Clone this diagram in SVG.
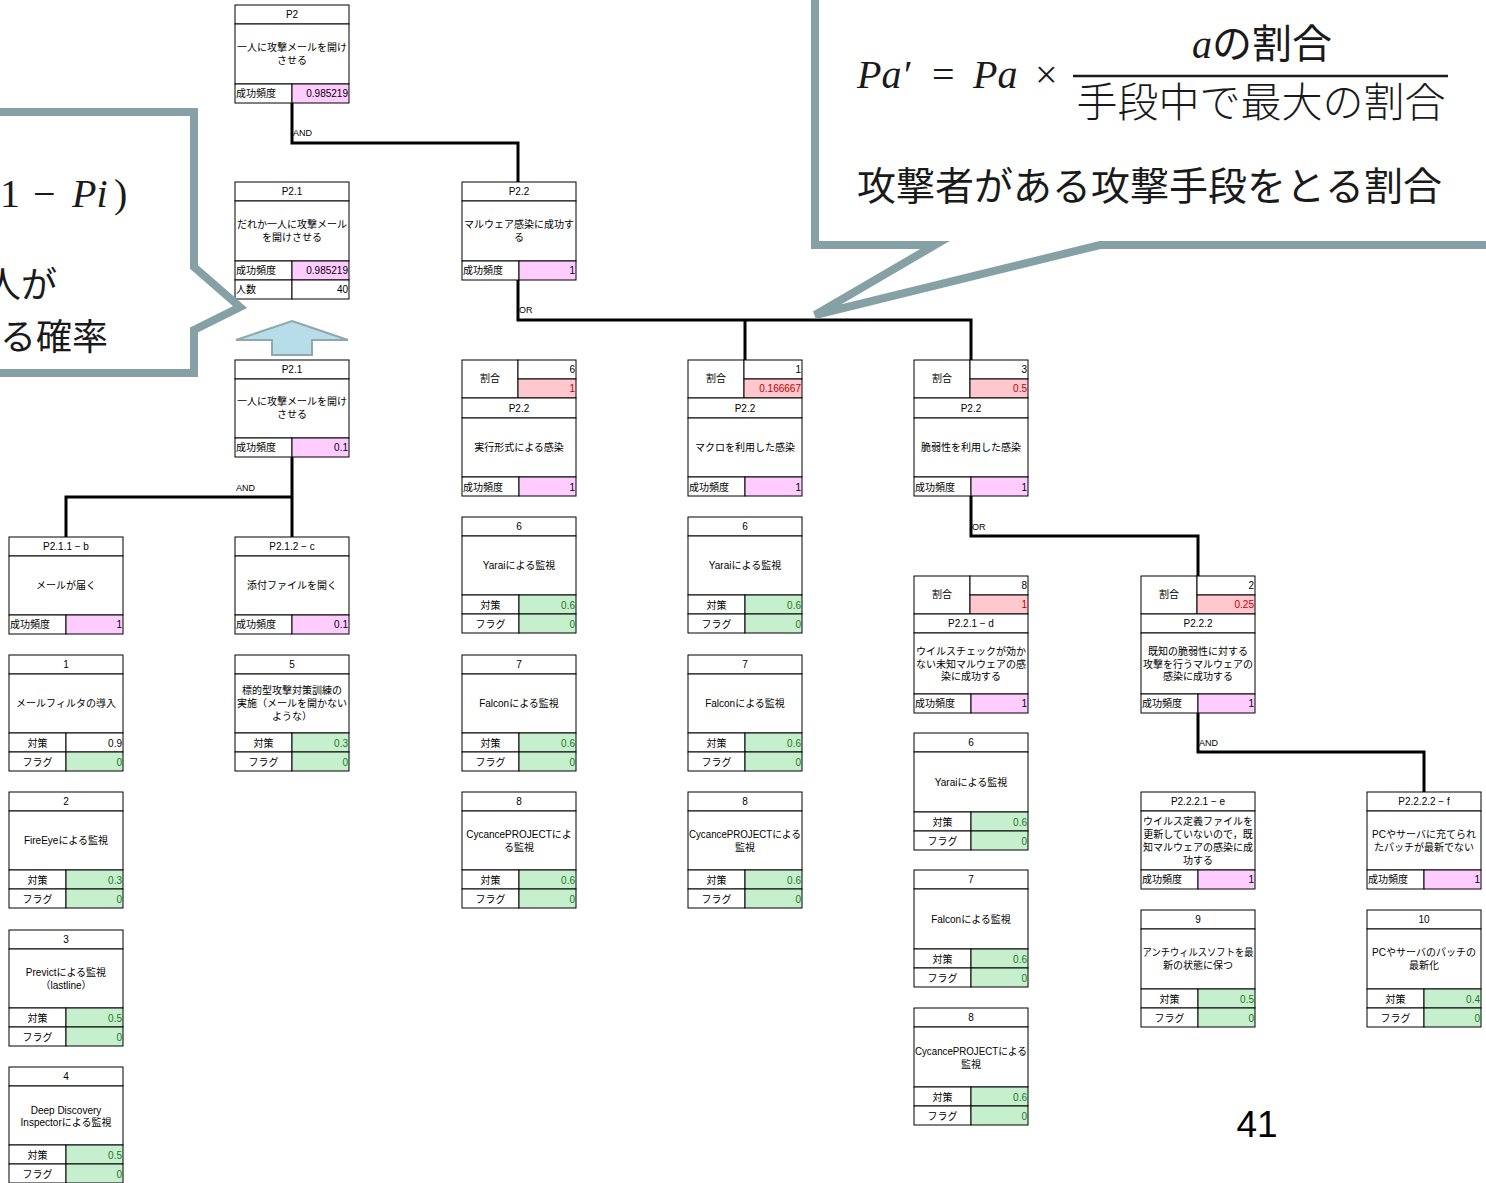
<svg xmlns="http://www.w3.org/2000/svg" width="1486" height="1183" viewBox="0 0 1486 1183">
<style>
.c{fill:#fff;stroke:#000;stroke-width:1}
.pk{fill:#ffccff;stroke:#000;stroke-width:1}
.gr{fill:#c6efce;stroke:#000;stroke-width:1}
.rd{fill:#ffc7ce;stroke:#000;stroke-width:1}
.t{font-family:"Liberation Sans","Noto Sans CJK JP",sans-serif;font-size:10px;fill:#000}
.m{text-anchor:middle}
.e{text-anchor:end}
.gt{fill:#1d7a1d}
.rt{fill:#c00000}
.cn{fill:none;stroke:#000;stroke-width:3}
.lb{font-family:"Liberation Sans",sans-serif;font-size:9px;fill:#000}
.co{fill:#fff;stroke:#86a1a5;stroke-width:8}
.jp{font-family:"Noto Sans CJK JP",sans-serif;fill:#1a1a1a}
.mt{font-family:"Liberation Serif",serif;fill:#1a1a1a}
</style>
<rect width="1486" height="1183" fill="#fff"/>

<g id="connectors">
<path class="cn" d="M292 102V143H518V182"/>
<path class="cn" d="M518 280V320H971V360M745 320V360"/>
<path class="cn" d="M292 457V497H66V537M292 497V537"/>
<path class="cn" d="M971 496V536H1198V576"/>
<path class="cn" d="M1198 712V752H1424V792"/>
<text class="lb" x="293" y="136">AND</text>
<text class="lb" x="519" y="313">OR</text>
<text class="lb" x="236" y="491">AND</text>
<text class="lb" x="972" y="530">OR</text>
<text class="lb" x="1199" y="746">AND</text>
</g>

<g id="n-p2" transform="translate(235,5)">
<rect class="c" width="114" height="19"/><rect class="c" y="19" width="114" height="60"/>
<rect class="c" y="79" width="57" height="19"/><rect class="pk" x="57" y="79" width="57" height="19"/>
<text class="t m" x="57" y="13">P2</text>
<text class="t m" x="57" y="46">一人に攻撃メールを開け</text>
<text class="t m" x="57" y="59">させる</text>
<text class="t" x="1" y="92">成功頻度</text><text class="t e" x="113" y="92">0.985219</text>
</g>

<g id="n-p21a" transform="translate(235,182)">
<rect class="c" width="114" height="19"/><rect class="c" y="19" width="114" height="60"/>
<rect class="c" y="79" width="57" height="19"/><rect class="pk" x="57" y="79" width="57" height="19"/>
<rect class="c" y="98" width="57" height="19"/><rect class="c" x="57" y="98" width="57" height="19"/>
<text class="t m" x="57" y="13">P2.1</text>
<text class="t m" x="57" y="46">だれか一人に攻撃メール</text>
<text class="t m" x="57" y="59">を開けさせる</text>
<text class="t" x="1" y="92">成功頻度</text><text class="t e" x="113" y="92">0.985219</text>
<text class="t" x="1" y="111">人数</text><text class="t e" x="113" y="111">40</text>
</g>

<g id="n-p22" transform="translate(462,182)">
<rect class="c" width="114" height="19"/><rect class="c" y="19" width="114" height="60"/>
<rect class="c" y="79" width="57" height="19"/><rect class="pk" x="57" y="79" width="57" height="19"/>
<text class="t m" x="57" y="13">P2.2</text>
<text class="t m" x="57" y="46">マルウェア感染に成功す</text>
<text class="t m" x="57" y="59">る</text>
<text class="t" x="1" y="92">成功頻度</text><text class="t e" x="113" y="92">1</text>
</g>

<g id="arrow-up">
<path d="M292 321L348 340H312V355H272V340H236Z" fill="#b7dde8" stroke="#8fa8ad" stroke-width="2"/>
</g>

<g id="n-p21b" transform="translate(235,360)">
<rect class="c" width="114" height="19"/><rect class="c" y="19" width="114" height="59"/>
<rect class="c" y="78" width="57" height="19"/><rect class="pk" x="57" y="78" width="57" height="19"/>
<text class="t m" x="57" y="13">P2.1</text>
<text class="t m" x="57" y="45">一人に攻撃メールを開け</text>
<text class="t m" x="57" y="58">させる</text>
<text class="t" x="1" y="91">成功頻度</text><text class="t e" x="113" y="91">0.1</text>
</g>

<g id="n-rc" transform="translate(462,360)">
<rect class="c" width="56" height="38"/><rect class="c" x="56" width="58" height="19"/><rect class="rd" x="56" y="19" width="58" height="19"/>
<rect class="c" y="38" width="114" height="20"/><rect class="c" y="58" width="114" height="59"/>
<rect class="c" y="117" width="57" height="19"/><rect class="pk" x="57" y="117" width="57" height="19"/>
<text class="t m" x="28" y="22">割合</text><text class="t e" x="113" y="13">6</text><text class="t e rt" x="113" y="32">1</text>
<text class="t m" x="57" y="52">P2.2</text>
<text class="t m" x="57" y="91">実行形式による感染</text>
<text class="t" x="1" y="130.5">成功頻度</text><text class="t e" x="113" y="130.5">1</text>
</g>

<g id="n-rd" transform="translate(688,360)">
<rect class="c" width="56" height="38"/><rect class="c" x="56" width="58" height="19"/><rect class="rd" x="56" y="19" width="58" height="19"/>
<rect class="c" y="38" width="114" height="20"/><rect class="c" y="58" width="114" height="59"/>
<rect class="c" y="117" width="57" height="19"/><rect class="pk" x="57" y="117" width="57" height="19"/>
<text class="t m" x="28" y="22">割合</text><text class="t e" x="113" y="13">1</text><text class="t e rt" x="113" y="32">0.166667</text>
<text class="t m" x="57" y="52">P2.2</text>
<text class="t m" x="57" y="91">マクロを利用した感染</text>
<text class="t" x="1" y="130.5">成功頻度</text><text class="t e" x="113" y="130.5">1</text>
</g>

<g id="n-re" transform="translate(914,360)">
<rect class="c" width="56" height="38"/><rect class="c" x="56" width="58" height="19"/><rect class="rd" x="56" y="19" width="58" height="19"/>
<rect class="c" y="38" width="114" height="20"/><rect class="c" y="58" width="114" height="59"/>
<rect class="c" y="117" width="57" height="19"/><rect class="pk" x="57" y="117" width="57" height="19"/>
<text class="t m" x="28" y="22">割合</text><text class="t e" x="113" y="13">3</text><text class="t e rt" x="113" y="32">0.5</text>
<text class="t m" x="57" y="52">P2.2</text>
<text class="t m" x="57" y="91">脆弱性を利用した感染</text>
<text class="t" x="1" y="130.5">成功頻度</text><text class="t e" x="113" y="130.5">1</text>
</g>

<g id="n-b" transform="translate(9,537)">
<rect class="c" width="114" height="19"/><rect class="c" y="19" width="114" height="59"/>
<rect class="c" y="78" width="57" height="19"/><rect class="pk" x="57" y="78" width="57" height="19"/>
<text class="t m" x="57" y="13">P2.1.1 − b</text>
<text class="t m" x="57" y="52">メールが届く</text>
<text class="t" x="1" y="91">成功頻度</text><text class="t e" x="113" y="91">1</text>
</g>

<g id="n-c" transform="translate(235,537)">
<rect class="c" width="114" height="19"/><rect class="c" y="19" width="114" height="59"/>
<rect class="c" y="78" width="57" height="19"/><rect class="pk" x="57" y="78" width="57" height="19"/>
<text class="t m" x="57" y="13">P2.1.2 − c</text>
<text class="t m" x="57" y="52">添付ファイルを開く</text>
<text class="t" x="1" y="91">成功頻度</text><text class="t e" x="113" y="91">0.1</text>
</g>

<g id="cm1" transform="translate(9,655)">
<rect class="c" width="114" height="19"/><rect class="c" y="19" width="114" height="59"/>
<rect class="c" y="78" width="57" height="19"/><rect class="c" x="57" y="78" width="57" height="19"/>
<rect class="c" y="97" width="57" height="19"/><rect class="gr" x="57" y="97" width="57" height="19"/>
<text class="t m" x="57" y="13">1</text>
<text class="t m" x="57" y="52">メールフィルタの導入</text>
<text class="t m" x="28.5" y="91.5">対策</text><text class="t e" x="113" y="91.5">0.9</text>
<text class="t m" x="28.5" y="110.5">フラグ</text><text class="t e gt" x="113" y="110.5">0</text>
</g>

<g id="cm5" transform="translate(235,655)">
<rect class="c" width="114" height="19"/><rect class="c" y="19" width="114" height="59"/>
<rect class="c" y="78" width="57" height="19"/><rect class="gr" x="57" y="78" width="57" height="19"/>
<rect class="c" y="97" width="57" height="19"/><rect class="gr" x="57" y="97" width="57" height="19"/>
<text class="t m" x="57" y="13">5</text>
<text class="t m" x="57" y="39">標的型攻撃対策訓練の</text>
<text class="t m" x="57" y="52">実施（メールを開かない</text>
<text class="t m" x="57" y="65">ような）</text>
<text class="t m" x="28.5" y="91.5">対策</text><text class="t e gt" x="113" y="91.5">0.3</text>
<text class="t m" x="28.5" y="110.5">フラグ</text><text class="t e gt" x="113" y="110.5">0</text>
</g>

<g id="cm2" transform="translate(9,792)">
<rect class="c" width="114" height="19"/><rect class="c" y="19" width="114" height="59"/>
<rect class="c" y="78" width="57" height="19"/><rect class="gr" x="57" y="78" width="57" height="19"/>
<rect class="c" y="97" width="57" height="19"/><rect class="gr" x="57" y="97" width="57" height="19"/>
<text class="t m" x="57" y="13">2</text>
<text class="t m" x="57" y="52">FireEyeによる監視</text>
<text class="t m" x="28.5" y="91.5">対策</text><text class="t e gt" x="113" y="91.5">0.3</text>
<text class="t m" x="28.5" y="110.5">フラグ</text><text class="t e gt" x="113" y="110.5">0</text>
</g>

<g id="cm3" transform="translate(9,930)">
<rect class="c" width="114" height="19"/><rect class="c" y="19" width="114" height="59"/>
<rect class="c" y="78" width="57" height="19"/><rect class="gr" x="57" y="78" width="57" height="19"/>
<rect class="c" y="97" width="57" height="19"/><rect class="gr" x="57" y="97" width="57" height="19"/>
<text class="t m" x="57" y="13">3</text>
<text class="t m" x="57" y="45.5">Previctによる監視</text>
<text class="t m" x="57" y="58.5">（lastline）</text>
<text class="t m" x="28.5" y="91.5">対策</text><text class="t e gt" x="113" y="91.5">0.5</text>
<text class="t m" x="28.5" y="110.5">フラグ</text><text class="t e gt" x="113" y="110.5">0</text>
</g>

<g id="cm4" transform="translate(9,1067)">
<rect class="c" width="114" height="19"/><rect class="c" y="19" width="114" height="59"/>
<rect class="c" y="78" width="57" height="19"/><rect class="gr" x="57" y="78" width="57" height="19"/>
<rect class="c" y="97" width="57" height="19"/><rect class="gr" x="57" y="97" width="57" height="19"/>
<text class="t m" x="57" y="13">4</text>
<text class="t m" x="57" y="46.5">Deep Discovery</text>
<text class="t m" x="57" y="58.5">Inspectorによる監視</text>
<text class="t m" x="28.5" y="91.5">対策</text><text class="t e gt" x="113" y="91.5">0.5</text>
<text class="t m" x="28.5" y="110.5">フラグ</text><text class="t e gt" x="113" y="110.5">0</text>
</g>

<g id="cm6c" transform="translate(462,517)">
<rect class="c" width="114" height="19"/><rect class="c" y="19" width="114" height="59"/>
<rect class="c" y="78" width="57" height="19"/><rect class="gr" x="57" y="78" width="57" height="19"/>
<rect class="c" y="97" width="57" height="19"/><rect class="gr" x="57" y="97" width="57" height="19"/>
<text class="t m" x="57" y="13">6</text>
<text class="t m" x="57" y="52">Yaraiによる監視</text>
<text class="t m" x="28.5" y="91.5">対策</text><text class="t e gt" x="113" y="91.5">0.6</text>
<text class="t m" x="28.5" y="110.5">フラグ</text><text class="t e gt" x="113" y="110.5">0</text>
</g>

<g id="cm7c" transform="translate(462,655)">
<rect class="c" width="114" height="19"/><rect class="c" y="19" width="114" height="59"/>
<rect class="c" y="78" width="57" height="19"/><rect class="gr" x="57" y="78" width="57" height="19"/>
<rect class="c" y="97" width="57" height="19"/><rect class="gr" x="57" y="97" width="57" height="19"/>
<text class="t m" x="57" y="13">7</text>
<text class="t m" x="57" y="52">Falconによる監視</text>
<text class="t m" x="28.5" y="91.5">対策</text><text class="t e gt" x="113" y="91.5">0.6</text>
<text class="t m" x="28.5" y="110.5">フラグ</text><text class="t e gt" x="113" y="110.5">0</text>
</g>

<g id="cm8c" transform="translate(462,792)">
<rect class="c" width="114" height="19"/><rect class="c" y="19" width="114" height="59"/>
<rect class="c" y="78" width="57" height="19"/><rect class="gr" x="57" y="78" width="57" height="19"/>
<rect class="c" y="97" width="57" height="19"/><rect class="gr" x="57" y="97" width="57" height="19"/>
<text class="t m" x="57" y="13">8</text>
<text class="t m" x="57" y="45.5">CycancePROJECTによ</text>
<text class="t m" x="57" y="58.5">る監視</text>
<text class="t m" x="28.5" y="91.5">対策</text><text class="t e gt" x="113" y="91.5">0.6</text>
<text class="t m" x="28.5" y="110.5">フラグ</text><text class="t e gt" x="113" y="110.5">0</text>
</g>

<g id="cm6d" transform="translate(688,517)">
<rect class="c" width="114" height="19"/><rect class="c" y="19" width="114" height="59"/>
<rect class="c" y="78" width="57" height="19"/><rect class="gr" x="57" y="78" width="57" height="19"/>
<rect class="c" y="97" width="57" height="19"/><rect class="gr" x="57" y="97" width="57" height="19"/>
<text class="t m" x="57" y="13">6</text>
<text class="t m" x="57" y="52">Yaraiによる監視</text>
<text class="t m" x="28.5" y="91.5">対策</text><text class="t e gt" x="113" y="91.5">0.6</text>
<text class="t m" x="28.5" y="110.5">フラグ</text><text class="t e gt" x="113" y="110.5">0</text>
</g>

<g id="cm7d" transform="translate(688,655)">
<rect class="c" width="114" height="19"/><rect class="c" y="19" width="114" height="59"/>
<rect class="c" y="78" width="57" height="19"/><rect class="gr" x="57" y="78" width="57" height="19"/>
<rect class="c" y="97" width="57" height="19"/><rect class="gr" x="57" y="97" width="57" height="19"/>
<text class="t m" x="57" y="13">7</text>
<text class="t m" x="57" y="52">Falconによる監視</text>
<text class="t m" x="28.5" y="91.5">対策</text><text class="t e gt" x="113" y="91.5">0.6</text>
<text class="t m" x="28.5" y="110.5">フラグ</text><text class="t e gt" x="113" y="110.5">0</text>
</g>

<g id="cm8d" transform="translate(688,792)">
<rect class="c" width="114" height="19"/><rect class="c" y="19" width="114" height="59"/>
<rect class="c" y="78" width="57" height="19"/><rect class="gr" x="57" y="78" width="57" height="19"/>
<rect class="c" y="97" width="57" height="19"/><rect class="gr" x="57" y="97" width="57" height="19"/>
<text class="t m" x="57" y="13">8</text>
<text class="t m" x="57" y="45.5" textLength="112" lengthAdjust="spacingAndGlyphs">CycancePROJECTによる</text>
<text class="t m" x="57" y="58.5">監視</text>
<text class="t m" x="28.5" y="91.5">対策</text><text class="t e gt" x="113" y="91.5">0.6</text>
<text class="t m" x="28.5" y="110.5">フラグ</text><text class="t e gt" x="113" y="110.5">0</text>
</g>

<g id="n-d" transform="translate(914,576)">
<rect class="c" width="56" height="38"/><rect class="c" x="56" width="58" height="19"/><rect class="rd" x="56" y="19" width="58" height="19"/>
<rect class="c" y="38" width="114" height="19"/><rect class="c" y="57" width="114" height="61"/>
<rect class="c" y="118" width="57" height="19"/><rect class="pk" x="57" y="118" width="57" height="19"/>
<text class="t m" x="28" y="22">割合</text><text class="t e" x="113" y="13">8</text><text class="t e rt" x="113" y="32">1</text>
<text class="t m" x="57" y="51">P2.2.1 − d</text>
<text class="t m" x="57" y="78.5">ウイルスチェックが効か</text>
<text class="t m" x="57" y="91.5">ない未知マルウェアの感</text>
<text class="t m" x="57" y="104">染に成功する</text>
<text class="t" x="1" y="131">成功頻度</text><text class="t e" x="113" y="131">1</text>
</g>

<g id="n-p222" transform="translate(1141,576)">
<rect class="c" width="56" height="38"/><rect class="c" x="56" width="58" height="19"/><rect class="rd" x="56" y="19" width="58" height="19"/>
<rect class="c" y="38" width="114" height="19"/><rect class="c" y="57" width="114" height="61"/>
<rect class="c" y="118" width="57" height="19"/><rect class="pk" x="57" y="118" width="57" height="19"/>
<text class="t m" x="28" y="22">割合</text><text class="t e" x="113" y="13">2</text><text class="t e rt" x="113" y="32">0.25</text>
<text class="t m" x="57" y="51">P2.2.2</text>
<text class="t m" x="57" y="78.5">既知の脆弱性に対する</text>
<text class="t m" x="57" y="91.5">攻撃を行うマルウェアの</text>
<text class="t m" x="57" y="104">感染に成功する</text>
<text class="t" x="1" y="131">成功頻度</text><text class="t e" x="113" y="131">1</text>
</g>

<g id="cm6e" transform="translate(914,733)">
<rect class="c" width="114" height="19"/><rect class="c" y="19" width="114" height="60"/>
<rect class="c" y="79" width="57" height="19"/><rect class="gr" x="57" y="79" width="57" height="19"/>
<rect class="c" y="98" width="57" height="19"/><rect class="gr" x="57" y="98" width="57" height="19"/>
<text class="t m" x="57" y="52.5">Yaraiによる監視</text>
<text class="t m" x="57" y="13">6</text>
<text class="t m" x="28.5" y="92.5">対策</text><text class="t e gt" x="113" y="92.5">0.6</text>
<text class="t m" x="28.5" y="111.5">フラグ</text><text class="t e gt" x="113" y="111.5">0</text>
</g>

<g id="cm7e" transform="translate(914,870)">
<rect class="c" width="114" height="19"/><rect class="c" y="19" width="114" height="60"/>
<rect class="c" y="79" width="57" height="19"/><rect class="gr" x="57" y="79" width="57" height="19"/>
<rect class="c" y="98" width="57" height="19"/><rect class="gr" x="57" y="98" width="57" height="19"/>
<text class="t m" x="57" y="13">7</text>
<text class="t m" x="57" y="52.5">Falconによる監視</text>
<text class="t m" x="28.5" y="92.5">対策</text><text class="t e gt" x="113" y="92.5">0.6</text>
<text class="t m" x="28.5" y="111.5">フラグ</text><text class="t e gt" x="113" y="111.5">0</text>
</g>

<g id="cm8e" transform="translate(914,1008)">
<rect class="c" width="114" height="19"/><rect class="c" y="19" width="114" height="60"/>
<rect class="c" y="79" width="57" height="19"/><rect class="gr" x="57" y="79" width="57" height="19"/>
<rect class="c" y="98" width="57" height="19"/><rect class="gr" x="57" y="98" width="57" height="19"/>
<text class="t m" x="57" y="13">8</text>
<text class="t m" x="57" y="46.5" textLength="112" lengthAdjust="spacingAndGlyphs">CycancePROJECTによる</text>
<text class="t m" x="57" y="59.5">監視</text>
<text class="t m" x="28.5" y="92.5">対策</text><text class="t e gt" x="113" y="92.5">0.6</text>
<text class="t m" x="28.5" y="111.5">フラグ</text><text class="t e gt" x="113" y="111.5">0</text>
</g>

<g id="n-e" transform="translate(1141,792)">
<rect class="c" width="114" height="19"/><rect class="c" y="19" width="114" height="59"/>
<rect class="c" y="78" width="57" height="19"/><rect class="pk" x="57" y="78" width="57" height="19"/>
<text class="t m" x="57" y="13">P2.2.2.1 − e</text>
<text class="t m" x="57" y="32.5">ウイルス定義ファイルを</text>
<text class="t m" x="57" y="45.5">更新していないので，既</text>
<text class="t m" x="57" y="58.5">知マルウェアの感染に成</text>
<text class="t m" x="57" y="71.5">功する</text>
<text class="t" x="1" y="91">成功頻度</text><text class="t e" x="113" y="91">1</text>
</g>

<g id="n-f" transform="translate(1367,792)">
<rect class="c" width="114" height="19"/><rect class="c" y="19" width="114" height="59"/>
<rect class="c" y="78" width="57" height="19"/><rect class="pk" x="57" y="78" width="57" height="19"/>
<text class="t m" x="57" y="13">P2.2.2.2 − f</text>
<text class="t m" x="57" y="45.5">PCやサーバに充てられ</text>
<text class="t m" x="57" y="58.5">たパッチが最新でない</text>
<text class="t" x="1" y="91">成功頻度</text><text class="t e" x="113" y="91">1</text>
</g>

<g id="cm9" transform="translate(1141,910)">
<rect class="c" width="114" height="19"/><rect class="c" y="19" width="114" height="60"/>
<rect class="c" y="79" width="57" height="19"/><rect class="gr" x="57" y="79" width="57" height="19"/>
<rect class="c" y="98" width="57" height="19"/><rect class="gr" x="57" y="98" width="57" height="19"/>
<text class="t m" x="57" y="13">9</text>
<text class="t m" x="57" y="45.5" textLength="111" lengthAdjust="spacingAndGlyphs">アンチウィルスソフトを最</text>
<text class="t m" x="57" y="58.5">新の状態に保つ</text>
<text class="t m" x="28.5" y="92.5">対策</text><text class="t e gt" x="113" y="92.5">0.5</text>
<text class="t m" x="28.5" y="111.5">フラグ</text><text class="t e gt" x="113" y="111.5">0</text>
</g>

<g id="cm10" transform="translate(1367,910)">
<rect class="c" width="114" height="19"/><rect class="c" y="19" width="114" height="60"/>
<rect class="c" y="79" width="57" height="19"/><rect class="gr" x="57" y="79" width="57" height="19"/>
<rect class="c" y="98" width="57" height="19"/><rect class="gr" x="57" y="98" width="57" height="19"/>
<text class="t m" x="57" y="13">10</text>
<text class="t m" x="57" y="45.5">PCやサーバのパッチの</text>
<text class="t m" x="57" y="58.5">最新化</text>
<text class="t m" x="28.5" y="92.5">対策</text><text class="t e gt" x="113" y="92.5">0.4</text>
<text class="t m" x="28.5" y="111.5">フラグ</text><text class="t e gt" x="113" y="111.5">0</text>
</g>

<g id="callout-left">
<path class="co" d="M-10 112H194V267L240 307L194 330V373H-10Z"/>
<text class="mt" x="0" y="207" font-size="40">1</text>
<text class="mt" x="33" y="207" font-size="40">−</text>
<text class="mt" x="72" y="207" font-size="40" font-style="italic">Pi</text>
<text class="mt" x="114" y="207" font-size="40">)</text>
<text class="jp" x="57" y="298" font-size="36" text-anchor="end">人が</text>
<text class="jp" x="108" y="350" font-size="36" text-anchor="end">る確率</text>
</g>

<g id="callout-right">
<path class="co" d="M815 -10V245H935L815 315L1100 245H1496V-10Z"/>
<text class="mt" x="857" y="88" font-size="40" font-style="italic">Pa′</text>
<text class="mt" x="932" y="88" font-size="40">=</text>
<text class="mt" x="973" y="88" font-size="40" font-style="italic">Pa</text>
<text class="mt" x="1035" y="88" font-size="40">×</text>
<line x1="1073" y1="76" x2="1448" y2="76" stroke="#1a1a1a" stroke-width="2.5"/>
<text class="jp" x="1262" y="58" font-size="40" text-anchor="middle"><tspan font-family="Liberation Serif" font-style="italic">a</tspan>の割合</text>
<text class="jp" x="1261" y="117" font-size="41" text-anchor="middle" font-weight="300">手段中で最大の割合</text>
<text class="jp" x="857" y="200" font-size="39">攻撃者がある攻撃手段をとる割合</text>
</g>

<text x="1257" y="1137" font-family="Liberation Sans, sans-serif" font-size="37" text-anchor="middle" fill="#000">41</text>
</svg>
